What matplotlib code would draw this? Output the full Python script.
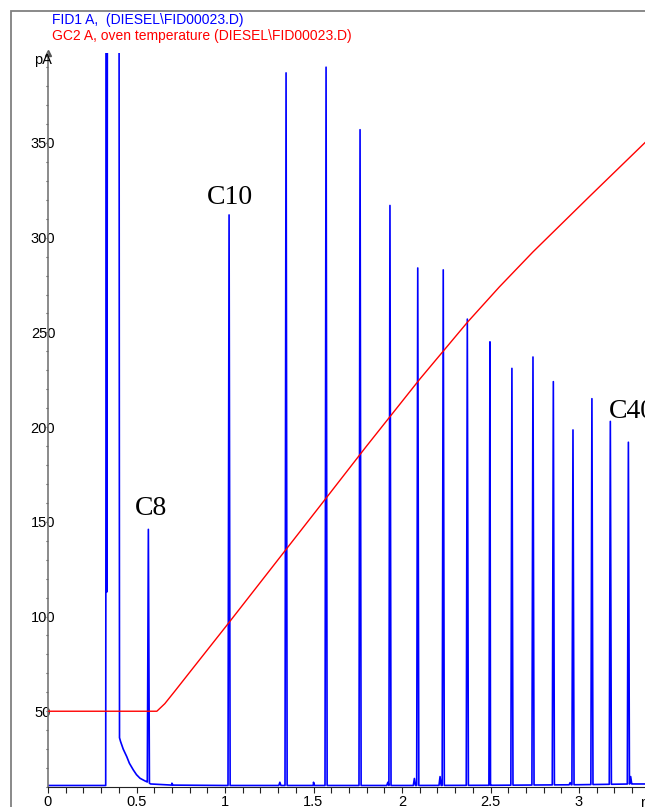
import matplotlib
import numpy as np

matplotlib.use("Agg")
from matplotlib import pyplot as plt
from matplotlib.patches import Rectangle
from matplotlib.ticker import MultipleLocator

# FID trace outside the alkane peaks: solvent front, tail and baseline (min, pA)
trace_t = [0.0, 0.326, 0.330, 0.333, 0.336, 0.401, 0.404, 0.410, 0.425, 0.445, 0.460,
           0.482, 0.500, 0.520, 0.548, 0.558, 0.580, 0.700, 1.0, 1.5, 2.0, 2.5, 3.0, 3.30, 3.373]
trace_pA = [10.8, 10.8, 500, 113, 500, 500, 36, 34, 30, 26, 22.5,
            19, 16.5, 14.6, 13.2, 12.8, 11.6, 11.0, 10.8, 10.8, 10.8, 10.9, 11.2, 11.6, 11.6]

# n-alkane peaks (apex time, apex height)
peak_t = [0.567, 1.023, 1.345, 1.571, 1.763, 1.932, 2.089, 2.233, 2.369,
          2.497, 2.621, 2.740, 2.855, 2.966, 3.073, 3.177, 3.279]
peak_pA = [146, 312, 387, 390, 357, 317, 284, 283, 257,
           245, 231, 237, 224, 198.5, 215, 203, 192]

# small baseline bumps
bump_t = [0.70, 1.31, 1.50, 1.92, 2.07, 2.215, 2.95, 3.292]
bump_pA = [12.0, 12.5, 12.5, 12.5, 14.5, 15.5, 12.3, 15.5]

# oven temperature trace, drawn on the same pA scale
oven_t = [0.0, 0.615, 0.66, 0.72, 0.80, 1.019, 1.537, 1.80, 2.102, 2.371, 2.55, 2.740, 3.062, 3.373]
oven_pA = [50, 50, 54, 61, 70.5, 96.4, 158.4, 190, 225.5, 255.5, 274, 292.5, 322, 350.2]

labels = [("C8", 0.4915, 153.6), ("C10", 0.898, 317.8), ("C40", 3.166, 205.0)]

W, H = 645, 807
SANS = ["Liberation Sans", "DejaVu Sans"]


def build_trace():
    points = list(zip(trace_t, trace_pA))
    for times, heights in ((peak_t, peak_pA), (bump_t, bump_pA)):
        for t, h in zip(times, heights):
            for dt in (-0.006, 0.006):
                points.append((t + dt, float(np.interp(t + dt, trace_t, trace_pA))))
            points.append((t, h))
    points.sort()
    return np.array(points).T


fig = plt.figure(figsize=(W / 100, H / 100), dpi=100)
ax = fig.add_axes([48 / W, (H - 787) / H, (W - 48) / W, (787 - 53) / H])

t, pA = build_trace()
ax.plot(t, pA, color="#0000ff", lw=1.2, zorder=2)
ax.plot(oven_t, oven_pA, color="#ff0000", lw=1.0, zorder=3)

ax.set_xlim(0, (W - 48) / 177)
ax.set_ylim(10, 397.5)

for side in ("top", "right"):
    ax.spines[side].set_visible(False)
ax.spines["left"].set_color("#777777")
ax.spines["left"].set_linewidth(1.2)
ax.spines["bottom"].set_color("#222222")

ax.xaxis.set_major_locator(MultipleLocator(0.5))
ax.xaxis.set_minor_locator(MultipleLocator(0.1))
ax.yaxis.set_major_locator(MultipleLocator(50))
ax.yaxis.set_minor_locator(MultipleLocator(10))
ax.xaxis.set_major_formatter(lambda v, _: f"{v:g}")
ax.tick_params(axis="x", which="both", direction="out", length=4.3, width=0.8,
               color="#222222", labelsize=10.5, pad=1.5)
ax.tick_params(axis="y", which="both", direction="out", length=1.5, width=0.8,
               color="#444444", labelsize=10.5, pad=2.1)
ax.set_yticks([50, 100, 150, 200, 250, 300, 350])
for lab in ax.get_yticklabels():
    lab.set_horizontalalignment("center")
for lab in ax.get_xticklabels() + ax.get_yticklabels():
    lab.set_family(SANS)

# arrow head and unit on top of the y axis
ax.plot([0], [1], marker="^", ms=4, color="#555555", transform=ax.transAxes, clip_on=False)
fig.text(43 / W, 1 - 60 / H, "pA", ha="center", va="center", fontsize=10.5, family=SANS)
fig.text(640 / W, 1 - 803 / H, "min", ha="left", va="center", fontsize=10.5, family=SANS)

for text, x, y in labels:
    ax.text(x, y, text, fontsize=20, family=["Liberation Serif", "DejaVu Serif"],
            ha="left", va="baseline")

# signal names
fig.text(52 / W, 1 - 20 / H, "FID1 A,  (DIESEL\\FID00023.D)", color="#0000ff",
         fontsize=10, va="center", family=SANS)
fig.text(52 / W, 1 - 36 / H, "GC2 A, oven temperature (DIESEL\\FID00023.D)", color="#ff0000",
         fontsize=10, va="center", family=SANS)

# outer frame, running off the right and bottom edges
fig.add_artist(Rectangle((10.5 / W, -0.1), 1.2, 1 - 10.5 / H + 0.1, fill=False,
                         edgecolor="#808080", lw=1.3, transform=fig.transFigure))

fig.savefig("out.png", dpi=100)
